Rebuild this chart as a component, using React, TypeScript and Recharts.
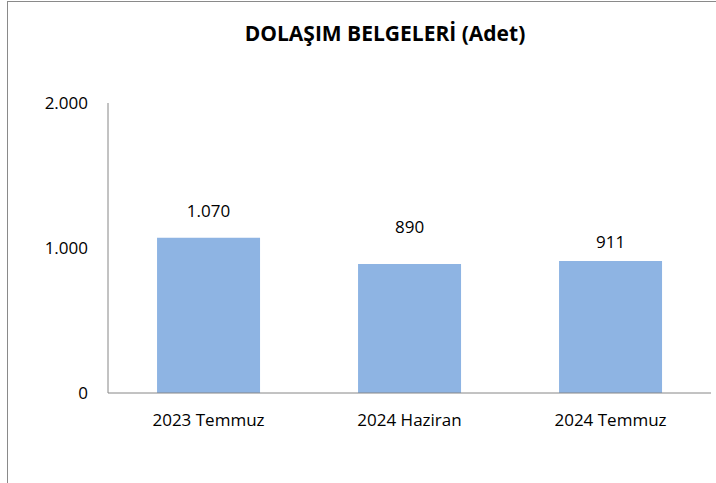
import { BarChart, Bar, XAxis, YAxis, LabelList } from 'recharts'

const periods = ['2023 Temmuz', '2024 Haziran', '2024 Temmuz']
const counts = [1070, 890, 911]
const yTicks = [0, 1000, 2000]
// labels in the source were hand-placed, so they sit at different heights above the bars
const labelLift = [27, 37, 19.5]

const data = periods.map((p, i) => ({ period: p, count: counts[i] }))

const fmt = (v: number) => v.toString().replace(/\B(?=(\d{3})+(?!\d))/g, '.')
const font = '"Open Sans", sans-serif'

const BarLabel = (props: any) => {
  const { x, y, width, value, index } = props
  return (
    <text x={x + width / 2} y={y - labelLift[index]} textAnchor="middle" dominantBaseline="central"
      fill="#000" fontSize={17} fontFamily={font}>
      {fmt(value)}
    </text>
  )
}

export default function App() {
  return (
    <div style={{ position: 'absolute', left: 0, top: 0, width: 716, height: 483, overflow: 'hidden', background: '#fff' }}>
      <div style={{ position: 'absolute', left: 7, top: 1, width: 800, height: 600, border: '1px solid #8a8a8a' }} />
      <div style={{ position: 'absolute', left: 185, width: 400, top: 19, textAlign: 'center', fontFamily: font,
        fontWeight: 700, fontSize: 21, color: '#000', lineHeight: '28px' }}>
        DOLAŞIM BELGELERİ (Adet)
      </div>
      <BarChart width={716} height={483} data={data} barCategoryGap="24.4%"
        margin={{ top: 103, right: 5, bottom: 60, left: 48 }} style={{ position: 'absolute', left: 0, top: 0 }}>
        <XAxis dataKey="period" height={30} tickLine={false} tickSize={0} tickMargin={21}
          axisLine={{ stroke: '#868686' }} tick={{ fill: '#000', fontSize: 17, fontFamily: font }} />
        <YAxis width={60} domain={[0, 2000]} ticks={yTicks} tickFormatter={fmt} tickLine={false} tickSize={0}
          tickMargin={20} axisLine={{ stroke: '#868686' }} tick={{ fill: '#000', fontSize: 17, fontFamily: font }} />
        <Bar dataKey="count" fill="#8EB4E3" isAnimationActive={false}>
          <LabelList dataKey="count" content={BarLabel} />
        </Bar>
      </BarChart>
    </div>
  )
}
